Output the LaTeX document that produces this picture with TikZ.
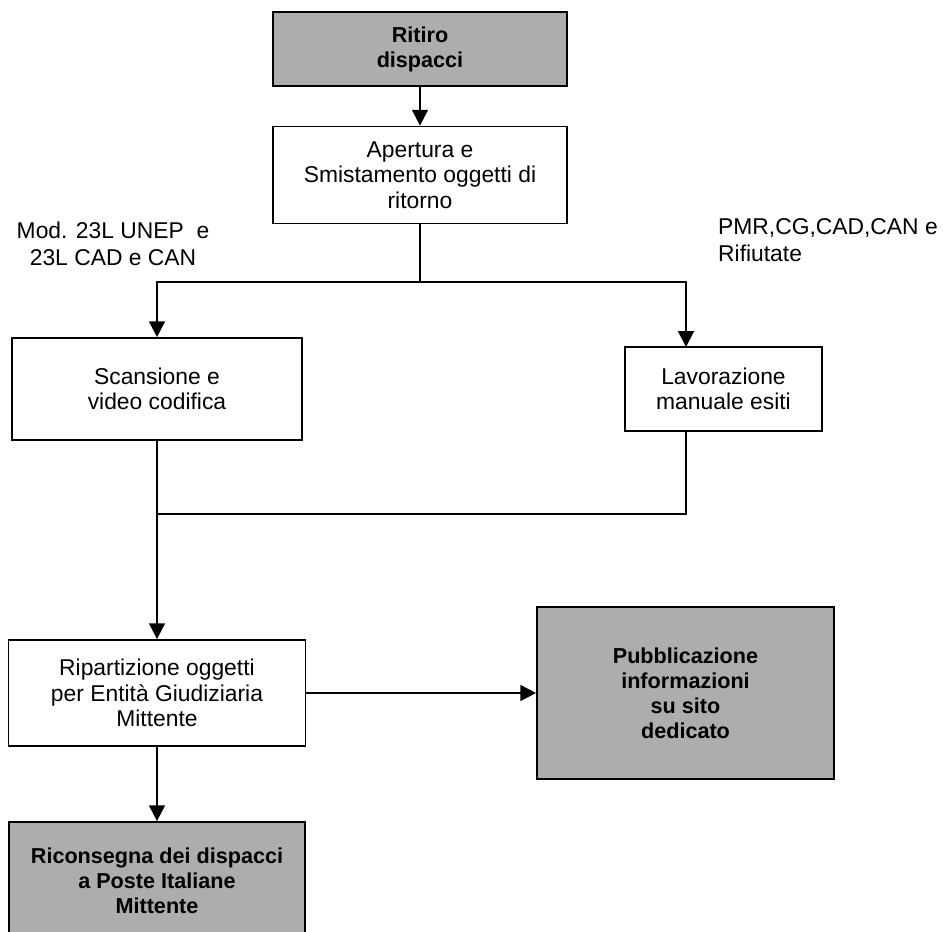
\documentclass[tikz,border=0pt]{standalone}
\usepackage{fontspec}
\setmainfont{Liberation Sans}
\usetikzlibrary{arrows.meta}

\begin{document}
\begin{tikzpicture}[x=0.02cm, y=-0.02cm,
    box/.style={draw, line width=1pt, align=center, inner sep=0pt,
        font=\fontsize{13}{14.5}\selectfont},
    greybox/.style={box, fill=black!32,
        font=\fontsize{12.3}{14.2}\bfseries\selectfont},
    link/.style={line width=1.1pt},
    arr/.style={link, -{Triangle[width=9pt,length=9pt]}}]
    \useasboundingbox (0,0) rectangle (950,932);

    % boxes
    \node[greybox, minimum width=5.88cm, minimum height=1.48cm] (ritiro)
        at (420,49) {Ritiro\\dispacci};
    \node[box, minimum width=5.88cm, minimum height=1.94cm] (apertura)
        at (420,175) {Apertura e\\Smistamento oggetti di\\ritorno};
    \node[box, minimum width=5.8cm, minimum height=2.04cm] (scansione)
        at (157,389) {Scansione e\\video codifica};
    \node[box, minimum width=3.94cm, minimum height=1.68cm] (lavorazione)
        at (723.5,389) {Lavorazione\\manuale esiti};
    \node[box, minimum width=5.94cm, minimum height=2.12cm] (ripartizione)
        at (157,693) {Ripartizione oggetti\\per Entità Giudiziaria\\Mittente};
    \node[greybox, minimum width=5.94cm, minimum height=3.44cm] (pubblicazione)
        at (685.5,693) {Pubblicazione\\informazioni\\su sito\\dedicato};
    \node[greybox, minimum width=5.92cm, minimum height=2.36cm] (riconsegna)
        at (157,881) {Riconsegna dei dispacci\\a Poste Italiane\\Mittente};

    % labels
    \node[align=center, font=\fontsize{13}{15}\selectfont] (modlabel)
        at (113,244) {Mod. 23L UNEP\ \ e\\23L CAD e CAN};
    \node[anchor=west, align=left, font=\fontsize{13}{15}\selectfont] (pmrlabel)
        at (712,240) {PMR,CG,CAD,CAN e\\Rifiutate};

    % connectors
    \coordinate (split) at (420,282);
    \coordinate (lavtop) at (686,347);
    \coordinate (lavbot) at (686,431);
    \coordinate (join) at (157,514);
    \draw[arr] (ritiro) -- (apertura);
    \draw[link] (apertura.south) -- (split);
    \draw[arr] (split) -| (scansione.north);
    \draw[arr] (split) -| (lavtop);
    \draw[link] (scansione.south) -- (join);
    \draw[link] (lavbot) |- (join);
    \draw[arr] (join) -- (ripartizione.north);
    \draw[arr] (ripartizione.east) -- (pubblicazione.west |- ripartizione.east);
    \draw[arr] (ripartizione) -- (riconsegna);
\end{tikzpicture}
\end{document}
